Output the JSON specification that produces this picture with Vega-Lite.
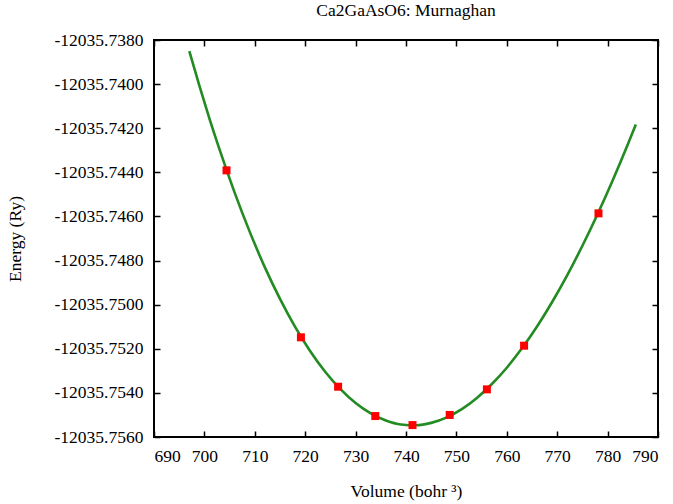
{
  "$schema": "https://vega.github.io/schema/vega-lite/v6.json",
  "autosize": "none",
  "width": 504,
  "height": 397,
  "padding": {"left": 154, "top": 40, "right": 15, "bottom": 67},
  "background": "white",
  "config": {
    "font": "Liberation Serif, Times New Roman, serif",
    "view": {"stroke": "black", "strokeWidth": 2},
    "axis": {
      "domain": false,
      "grid": false,
      "ticks": true,
      "tickColor": "black",
      "tickWidth": 1.5,
      "tickSize": -6,
      "labelFont": "Liberation Serif, Times New Roman, serif",
      "labelFontSize": 17.5,
      "labelColor": "black",
      "titleFont": "Liberation Serif, Times New Roman, serif",
      "titleFontSize": 17.5,
      "titleFontWeight": "normal",
      "titleColor": "black"
    },
    "title": {"font": "Liberation Serif, Times New Roman, serif", "fontSize": 17.5, "fontWeight": "normal", "color": "black"}
  },
  "title": {"text": "Ca2GaAsO6: Murnaghan", "offset": 12, "anchor": "middle"},
  "datasets": {
    "fit": [
      {"volume": 697.0, "energy": -12035.73850},
      {"volume": 699.0, "energy": -12035.74007},
      {"volume": 701.0, "energy": -12035.74156},
      {"volume": 703.0, "energy": -12035.74296},
      {"volume": 706.0, "energy": -12035.74492},
      {"volume": 709.0, "energy": -12035.74670},
      {"volume": 712.0, "energy": -12035.74831},
      {"volume": 715.0, "energy": -12035.74974},
      {"volume": 718.0, "energy": -12035.75101},
      {"volume": 721.0, "energy": -12035.75211},
      {"volume": 724.0, "energy": -12035.75305},
      {"volume": 727.0, "energy": -12035.75383},
      {"volume": 730.0, "energy": -12035.75446},
      {"volume": 733.0, "energy": -12035.75493},
      {"volume": 736.0, "energy": -12035.75525},
      {"volume": 739.0, "energy": -12035.75543},
      {"volume": 742.0, "energy": -12035.75547},
      {"volume": 745.0, "energy": -12035.75536},
      {"volume": 748.0, "energy": -12035.75512},
      {"volume": 751.0, "energy": -12035.75475},
      {"volume": 754.0, "energy": -12035.75424},
      {"volume": 757.0, "energy": -12035.75361},
      {"volume": 760.0, "energy": -12035.75286},
      {"volume": 763.0, "energy": -12035.75198},
      {"volume": 766.0, "energy": -12035.75099},
      {"volume": 769.0, "energy": -12035.74988},
      {"volume": 772.0, "energy": -12035.74866},
      {"volume": 775.0, "energy": -12035.74733},
      {"volume": 778.0, "energy": -12035.74590},
      {"volume": 781.0, "energy": -12035.74437},
      {"volume": 784.0, "energy": -12035.74274},
      {"volume": 785.6, "energy": -12035.74183}
    ],
    "points": [
      {"volume": 704.39, "energy": -12035.74391},
      {"volume": 719.15, "energy": -12035.75148},
      {"volume": 726.53, "energy": -12035.75372},
      {"volume": 733.91, "energy": -12035.75505},
      {"volume": 741.29, "energy": -12035.75546},
      {"volume": 748.67, "energy": -12035.75500},
      {"volume": 756.05, "energy": -12035.75384},
      {"volume": 763.43, "energy": -12035.75186},
      {"volume": 778.19, "energy": -12035.74586}
    ]
  },
  "layer": [
    {
      "data": {"name": "fit"},
      "mark": {"type": "line", "color": "#228b22", "strokeWidth": 2.6, "interpolate": "monotone", "clip": true},
      "encoding": {
        "x": {"field": "volume", "type": "quantitative", "scale": {"domain": [690, 790], "nice": false, "zero": false},
              "axis": {"orient": "top", "labels": false, "title": null, "values": [690,700,710,720,730,740,750,760,770,780,790]}},
        "y": {"field": "energy", "type": "quantitative", "scale": {"domain": [-12035.756, -12035.738], "nice": false, "zero": false},
              "axis": {"orient": "right", "labels": false, "title": null, "values": [-12035.756,-12035.754,-12035.752,-12035.75,-12035.748,-12035.746,-12035.744,-12035.742,-12035.74,-12035.738]}}
      }
    },
    {
      "data": {"name": "points"},
      "mark": {"type": "square", "color": "#ff0000", "filled": true, "opacity": 1, "size": 64},
      "encoding": {
        "x": {"field": "volume", "type": "quantitative",
              "axis": {"orient": "bottom", "title": "Volume (bohr ³)", "titlePadding": 18, "labelPadding": 16, "format": "d", "values": [690,700,710,720,730,740,750,760,770,780,790]}},
        "y": {"field": "energy", "type": "quantitative",
              "axis": {"orient": "left", "title": "Energy (Ry)", "titlePadding": 30, "labelPadding": 17, "format": ".4f", "labelExpr": "replace(datum.label, '−', '-')", "values": [-12035.756,-12035.754,-12035.752,-12035.75,-12035.748,-12035.746,-12035.744,-12035.742,-12035.74,-12035.738]}}
      }
    }
  ],
  "resolve": {"axis": {"x": "independent", "y": "independent"}}
}
